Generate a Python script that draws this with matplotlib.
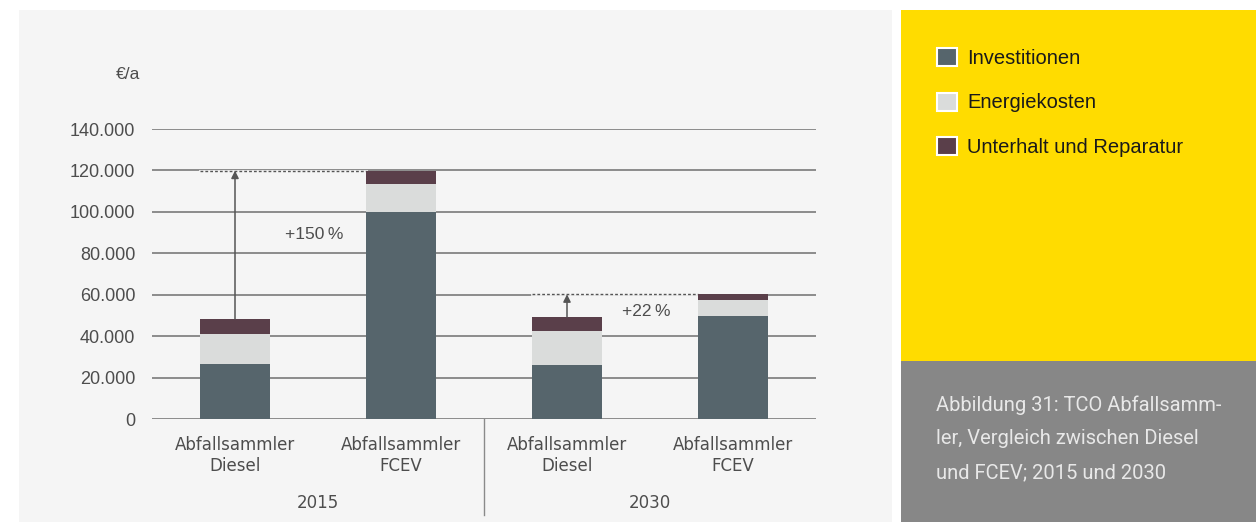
import numpy as np
import matplotlib.pyplot as plt
from matplotlib.patches import Rectangle, Patch

# TCO values in EUR per year
kategorien = ['Abfallsammler\nDiesel', 'Abfallsammler\nFCEV', 'Abfallsammler\nDiesel', 'Abfallsammler\nFCEV']
jahre = ['2015', '2030']
investitionen = [26500, 100000, 26000, 49700]
energiekosten = [14500, 13600, 16500, 7800]
unterhalt = [7300, 6300, 6800, 2700]
serien = ['Investitionen', 'Energiekosten', 'Unterhalt und Reparatur']
farben = ['#56656c', '#dadcdb', '#5a3f4a']
steigerung = ['+150\u2009%', '+22\u2009%']
yticks = [0, 20000, 40000, 60000, 80000, 100000, 120000, 140000]

W, H = 1256, 522
fig = plt.figure(figsize=(W / 100, H / 100), dpi=100)
fig.patch.set_facecolor('white')

def px(x0, y0, x1, y1):
    # pixel box (top-left origin) -> figure fraction rectangle
    return [x0 / W, 1 - y1 / H, (x1 - x0) / W, (y1 - y0) / H]

# background panels
for (x0, y0, x1, y1), c in [((19, 10, 892, 522), '#f5f5f5'),
                            ((901, 10, 1256, 361), '#ffdc00'),
                            ((901, 361, 1256, 522), '#878787')]:
    b = px(x0, y0, x1, y1)
    fig.patches.append(Rectangle((b[0], b[1]), b[2], b[3], transform=fig.transFigure,
                                 facecolor=c, edgecolor='none', zorder=-5))

font = ['Liberation Sans', 'DejaVu Sans']
wide = ['DejaVu Sans']
txt = '#4d4d4d'

ax = fig.add_axes(px(152, 129, 816, 419))
ax.set_facecolor('none')
ax.set_zorder(2)
x = np.arange(len(kategorien))
inv = np.array(investitionen)
ene = np.array(energiekosten)
unt = np.array(unterhalt)
total = inv + ene + unt
bw = 0.42
ax.bar(x, inv, bw, color=farben[0], zorder=3)
ax.bar(x, ene, bw, bottom=inv, color=farben[1], zorder=3)
ax.bar(x, unt, bw, bottom=inv + ene, color=farben[2], zorder=3)

ax.set_xlim(-0.5, 3.5)
ax.set_ylim(0, 140000)
for v in yticks:
    ax.axhline(v, color='#6f6f6f', lw=1.1, zorder=1)
ax.set_yticks(yticks)
ax.set_yticklabels([f'{v:,}'.replace(',', '.') for v in yticks], family=font,
                   fontsize=13, color=txt)
ax.tick_params(axis='y', length=0, pad=12)
ax.set_xticks([])
for s in ax.spines.values():
    s.set_visible(False)

ax.text(-0.5 - 12 / 166, 140000 + 54 / 2.071 * 1000, '\u20ac/a', ha='right', va='center',
        family=font, fontsize=12.5, color=txt)

# category and year labels below the axis
for xi, k in zip(x, kategorien):
    ax.text(xi, -8300, k, ha='center', va='top', family=wide, fontsize=12,
            color=txt, linespacing=1.22)
for i, j in enumerate(jahre):
    ax.text(2 * i + 0.5, -40500, j, ha='center', va='center', family=wide,
            fontsize=12, color=txt)
ax.plot([1.5, 1.5], [0, -46500], color='#8a8a8a', lw=1, clip_on=False)

# increase markers: dotted reference line, arrow and percentage
for i, (lab, tx, ty) in enumerate(zip(steigerung, [0.476, 2.48], [89300, 51700])):
    d, f = 2 * i, 2 * i + 1
    ax.plot([d - bw / 2, f - bw / 2], [total[f]] * 2, color='#f5f5f5', lw=2, zorder=2)
    ax.plot([d - bw / 2, f - bw / 2], [total[f]] * 2, color='#555555', lw=1,
            ls=(0, (2, 1.5)), zorder=2)
    ax.annotate('', xy=(d, total[f]), xytext=(d, total[d]),
                arrowprops=dict(arrowstyle='-|>', color='#555555', lw=1.1,
                                mutation_scale=11, shrinkA=0, shrinkB=0), zorder=4)
    ax.text(tx, ty, lab, ha='center', va='center', family=font, fontsize=12.5, color=txt)

# legend in the yellow panel
handles = [Patch(facecolor=c, edgecolor='white', linewidth=1.5) for c in farben]
fig.legend(handles, serien, loc='upper left', bbox_to_anchor=(931 / W, 1 - 42 / H),
           frameon=False, prop={'family': font, 'size': 14.5}, labelcolor='#1a1a1a',
           handlelength=1.0, handleheight=1.0, handletextpad=0.5, labelspacing=1.22,
           borderaxespad=0, borderpad=0.3)

fig.text(936 / W, 1 - 395 / H,
         'Abbildung 31: TCO Abfallsamm-\nler, Vergleich zwischen Diesel\nund FCEV; 2015 und 2030',
         ha='left', va='top', family=['Roboto', 'DejaVu Sans'],
         fontsize=14.5, color='#e8e8e8', linespacing=1.98)

fig.savefig('out.png', dpi=100)
